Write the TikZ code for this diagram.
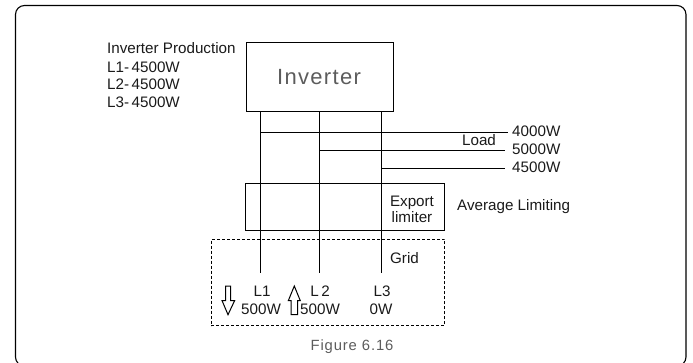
\documentclass[tikz,border=0pt]{standalone}
\usepackage{fontspec}
\setmainfont{Liberation Sans}
\newfontfamily\spaced[LetterSpace=6]{Liberation Sans}
\usetikzlibrary{arrows.meta,positioning}
\definecolor{Ink}{HTML}{1A1A1A}
\definecolor{Mute}{HTML}{5C5C5C}
\tikzset{
  wire/.style={draw=black,line width=1pt},
  box/.style={draw=black,line width=1pt,inner sep=0pt},
  lab/.style={font=\fontsize{15.2}{18}\selectfont,Ink,inner sep=0pt},
  flow/.style={draw=black,line width=1pt,fill=white,line join=miter}
}
\begin{document}
\begin{tikzpicture}[x=1pt,y=-1pt]
  \useasboundingbox (0,0) rectangle (693,363);
  \begin{scope}
    \clip (0,0) rectangle (693,363);
    \draw[line width=1.1pt,rounded corners=9pt] (15.5,5.5) rectangle (686,366);
  \end{scope}
  % boxes
  \node[box,minimum width=146.5pt,minimum height=69.5pt] (inv) at (319.75,77.25) {};
  \node[box,minimum width=199pt,minimum height=47.5pt] (lim) at (344.8,207.2) {};
  \node[draw=black,line width=1pt,dashed,dash pattern=on 3pt off 2pt,inner sep=0pt,minimum width=233.5pt,minimum height=86.5pt] (grid) at (327.75,282.5) {};
  % phases
  \foreach \i/\x in {1/260,2/319.6,3/381.2} {
    \coordinate (top\i) at (\x,112);
    \coordinate (end\i) at (\x,273.3);
    \draw[wire] (top\i) -- (end\i);
  }
  % loads
  \foreach \i/\y/\xe/\val in {1/132.3/508/4000W,2/150.3/505/5000W,3/168.3/505/4500W} {
    \coordinate (tap\i) at (top\i |- 0,\y);
    \coordinate (out\i) at (\xe,\y);
    \draw[wire] (tap\i) -- (out\i);
    \node[lab,anchor=west] (load\i) at (512,{\y-1}) {\val};
  }
  \node[lab] (loadlab) at (479,140.5) {Load};
  % texts
  \node[font=\spaced\fontsize{22}{26}\selectfont,Mute,inner sep=0pt] (invlab) at (319,77) {Inverter};
  \node[lab,anchor=west] (prod) at (107,48) {Inverter Production};
  \node[lab,anchor=west] (prod1) at (107,67) {L1-\,4500W};
  \node[lab,anchor=west] (prod2) at (107,84) {L2-\,4500W};
  \node[lab,anchor=west] (prod3) at (107,102) {L3-\,4500W};
  \node[lab,align=center,font=\fontsize{15.2}{16.5}\selectfont] (limlab) at (412,209.5) {Export\\limiter};
  \node[lab,anchor=west] (avg) at (457,206.5) {Average Limiting};
  \node[lab] (gridlab) at (404.5,258.5) {Grid};
  \node[lab] (l1) at (262,291) {L1};
  \node[lab] (l2) at (320,291) {L\,2};
  \node[lab] (l3) at (382,291) {L3};
  \node[lab] (w1) at (261,309) {500W};
  \node[lab] (w2) at (320,309) {500W};
  \node[lab] (w3) at (381,309) {0W};
  \node[font=\spaced\fontsize{14.8}{18}\selectfont,Mute,inner sep=0pt] (fig) at (352,347) {Figure 6.16};
  % flow arrows
  \draw[flow] (225.5,286) -- (230.5,286) -- (230.5,300.5) -- (234.7,300.5) -- (228,314.7) -- (222,300.5) -- (225.5,300.5) -- cycle;
  \draw[flow] (291,314.7) -- (297.7,314.7) -- (297.7,300.7) -- (300.3,300.7) -- (294.3,286) -- (288.3,300.7) -- (291,300.7) -- cycle;
\end{tikzpicture}
\end{document}
